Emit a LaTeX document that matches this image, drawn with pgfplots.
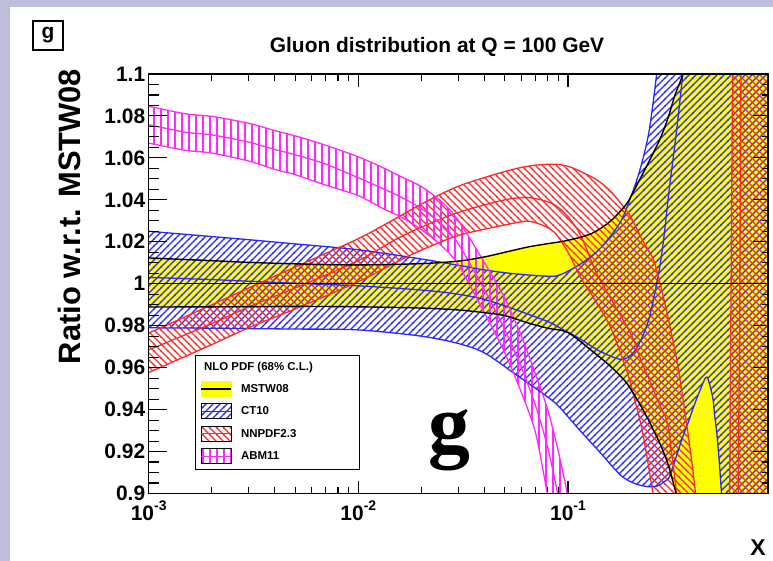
\documentclass[border=0pt]{standalone}
\usepackage{fontspec}
\setmainfont{Liberation Sans}
\newfontfamily\serifbold{Liberation Serif}
\usepackage{pgfplots}
\pgfplotsset{compat=1.18}
\usepackage{pgfplotstable}
\usepgfplotslibrary{fillbetween}
\usetikzlibrary{patterns}

\definecolor{frame}{RGB}{190,190,220}
\definecolor{ctblue}{RGB}{40,40,255}
\definecolor{nnred}{RGB}{255,40,40}
\definecolor{abmmag}{RGB}{255,40,255}
\definecolor{mstwyel}{RGB}{255,255,0}

% hatch styles on a 7bp grid
\pgfdeclarepatternformonly{hatchNE}{\pgfpoint{-1bp}{-1bp}}{\pgfpoint{8bp}{8bp}}{\pgfpoint{7bp}{7bp}}{%
  \pgfsetlinewidth{1.3bp}%
  \pgfpathmoveto{\pgfpoint{-0.5bp}{-0.5bp}}%
  \pgfpathlineto{\pgfpoint{7.5bp}{7.5bp}}%
  \pgfusepath{stroke}}
\pgfdeclarepatternformonly{hatchNW}{\pgfpoint{-1bp}{-1bp}}{\pgfpoint{8bp}{8bp}}{\pgfpoint{7bp}{7bp}}{%
  \pgfsetlinewidth{1.3bp}%
  \pgfpathmoveto{\pgfpoint{-0.5bp}{7.5bp}}%
  \pgfpathlineto{\pgfpoint{7.5bp}{-0.5bp}}%
  \pgfusepath{stroke}}
\pgfdeclarepatternformonly{hatchV}{\pgfpoint{-1bp}{-1bp}}{\pgfpoint{8bp}{8bp}}{\pgfpoint{7bp}{7bp}}{%
  \pgfsetlinewidth{1.3bp}%
  \pgfpathmoveto{\pgfpoint{0bp}{-1bp}}%
  \pgfpathlineto{\pgfpoint{0bp}{8bp}}%
  \pgfusepath{stroke}}

% ratio to MSTW08: x, lower edge, central, upper edge
\pgfplotstableread{
x lo c hi
0.0009 0.9889 1 1.0124
0.001 0.9889 1 1.0123
0.002 0.9890 1 1.0110
0.003 0.9891 1 1.0102
0.005 0.9892 1 1.0095
0.01 0.9890 1 1.0090
0.02 0.9884 1 1.0096
0.03 0.9875 1 1.0108
0.04 0.9862 1 1.0128
0.05 0.9848 1 1.0150
0.065 0.9812 1 1.0176
0.08 0.9788 1 1.0191
0.1 0.9767 1 1.0207
0.13 0.9680 1 1.0240
0.16 0.9605 1 1.0300
0.19 0.9528 1 1.0380
0.213 0.9450 1 1.0470
0.237 0.9368 1 1.0560
0.274 0.9240 1 1.0687
0.3 0.9140 1 1.0790
0.324 0.9020 1 1.0900
0.353 0.8880 1 1.0997
0.4 0.8680 1 1.1180
0.5 0.8350 1 1.1550
0.7 0.7900 1 1.2100
0.95 0.7500 1 1.2700
}\mstw

\pgfplotstableread{
x lo c hi
0.0009 0.9790 1.0032 1.0253
0.001 0.9790 1.0030 1.0250
0.002 0.9788 1.0020 1.0225
0.003 0.9786 1.0012 1.0210
0.005 0.9784 1.0002 1.0190
0.01 0.9780 0.9990 1.0162
0.02 0.9750 0.9970 1.0118
0.03 0.9715 0.9950 1.0088
0.04 0.9670 0.9925 1.0066
0.055 0.9575 0.9880 1.0048
0.08 0.9460 0.9820 1.0036
0.0914 0.9410 0.9790 1.0042
0.113 0.9305 0.9740 1.0090
0.141 0.9200 0.9680 1.0164
0.177 0.9090 0.9640 1.0290
0.2 0.9055 0.9660 1.0417
0.22 0.9040 0.9720 1.0540
0.243 0.9032 0.9830 1.0720
0.265 0.9035 1.0000 1.1000
0.278 0.9045 1.0120 1.1200
0.289 0.9058 1.0250 1.1400
0.305 0.9080 1.0460 1.1700
0.327 0.9170 1.0700 1.2000
0.353 0.9270 1.1000 1.2400
0.375 0.9340 1.1300 1.2800
0.40 0.9420 1.1700 1.3200
0.43 0.9500 1.2200 1.3600
0.46 0.9555 1.2600 1.4000
0.49 0.9460 1.3000 1.4500
0.50 0.9380 1.3200 1.4700
0.515 0.9270 1.3500 1.5000
0.528 0.9140 1.3800 1.5300
0.54 0.9000 1.4000 1.5500
0.56 0.8750 1.4500 1.6000
0.7 0.8000 1.5000 1.7000
0.95 0.7800 1.5500 1.7500
}\cteq

\pgfplotstableread{
x lo c hi
0.0009 0.9567 0.9675 0.9755
0.001 0.9577 0.9685 0.9765
0.002 0.9710 0.9810 0.9900
0.003 0.9790 0.9890 0.9980
0.005 0.9880 0.9980 1.0080
0.01 1.0010 1.0110 1.0215
0.015 1.0100 1.0210 1.0310
0.02 1.0160 1.0270 1.0380
0.03 1.0230 1.0340 1.0465
0.05 1.0280 1.0400 1.0535
0.066 1.0297 1.0410 1.0562
0.085 1.0250 1.0380 1.0570
0.1 1.0150 1.0320 1.0560
0.115 1.0030 1.0230 1.0535
0.137 0.9910 1.0050 1.0496
0.16 0.9790 0.9930 1.0440
0.19 0.9590 0.9800 1.0350
0.204 0.9480 0.9740 1.0300
0.226 0.9300 0.9620 1.0210
0.245 0.9100 0.9540 1.0150
0.259 0.8950 0.9480 1.0100
0.28 0.8750 0.9400 0.9970
0.3 0.8600 0.9320 0.9840
0.33 0.8400 0.9000 0.9640
0.36 0.8300 0.8700 0.9400
0.39 0.8200 0.8500 0.9150
0.41 0.8150 0.8400 0.8970
0.45 0.8100 0.8300 0.8700
0.5 0.8050 0.8300 0.8550
0.55 0.8000 0.8300 0.8500
0.58 0.8000 0.8300 0.8600
0.59 0.8000 0.8300 0.9000
0.6 0.8000 0.8350 1.0000
0.61 0.8000 0.8400 1.1000
0.63 0.8000 0.8500 1.2500
0.645 0.8000 0.8800 1.3000
0.655 0.8000 0.9500 1.3300
0.665 0.8000 1.0500 1.3600
0.68 0.8000 1.1800 1.4000
0.75 0.7900 1.3500 1.5000
0.95 0.7800 1.5000 1.6000
}\nnpdf

\pgfplotstableread{
x lo c hi
0.0009 1.0675 1.0763 1.0851
0.001 1.0670 1.0758 1.0846
0.0015 1.0636 1.0722 1.0810
0.002 1.0623 1.0710 1.0798
0.003 1.0585 1.0675 1.0765
0.004 1.0545 1.0640 1.0730
0.005 1.0520 1.0615 1.0705
0.007 1.0470 1.0570 1.0660
0.01 1.0420 1.0505 1.0605
0.013 1.0360 1.0455 1.0555
0.016 1.0318 1.0413 1.0510
0.02 1.0258 1.0358 1.0463
0.025 1.0180 1.0283 1.0390
0.03 1.0090 1.0190 1.0302
0.04 0.9860 0.9970 1.0100
0.05 0.9670 0.9780 0.9930
0.06 0.9480 0.9600 0.9750
0.07 0.9290 0.9420 0.9570
0.08 0.8990 0.9220 0.9400
0.09 0.8700 0.8980 0.9200
0.1 0.8400 0.8700 0.8980
0.11 0.8100 0.8400 0.8700
}\abm

\pgfplotsset{
  band edge/.style={smooth, tension=0.5, forget plot},
  frame geometry/.style={
    at={(148.7bp,67.5bp)}, anchor=south west,
    scale only axis, width=619.3bp, height=419.5bp,
    ymin=0.9, ymax=1.1,
    axis line style={line width=1.3bp},
    every tick/.append style={black, line width=1.1bp},
    tick align=inside,
  },
}

\begin{document}
\begin{tikzpicture}
% lavender page edges
\fill[frame] (0,0) rectangle (10bp,561bp);
\fill[frame] (0,554bp) rectangle (773bp,561bp);

\begin{axis}[
  frame geometry,
  xmode=log, xmin=0.001, xmax=0.9,
  xtick={0.001,0.01,0.1},
  xticklabels={{10\raisebox{0.45em}{\fontsize{14}{14}\selectfont -3}},
               {10\raisebox{0.45em}{\fontsize{14}{14}\selectfont -2}},
               {10\raisebox{0.45em}{\fontsize{14}{14}\selectfont -1}}},
  xticklabel style={yshift=-4bp},
  xtick pos=both,
  major tick length=13bp, minor tick length=7bp,
  ytick={0.9,0.92,0.94,0.96,0.98,1,1.02,1.04,1.06,1.08,1.1},
  minor y tick num=3,
  every y tick/.append style={draw=none},
  every minor y tick/.append style={draw=none},
  tick label style={font=\bfseries\fontsize{21}{21}\selectfont},
  /pgf/number format/assume math mode=true,
  yticklabel style={/pgf/number format/fixed, /pgf/number format/precision=2},
  legend style={at={(0.0748,0.330)}, anchor=north west, draw=black,
    line width=1bp, fill=white, inner xsep=5bp, inner ysep=5bp,
    row sep=6.5bp, column sep=7bp,
    font=\bfseries\fontsize{11.5}{11.5}\selectfont},
  legend cell align=left,
]
\addlegendimage{empty legend}
\addlegendentry{\hspace*{-37bp}NLO PDF (68\% C.L.)\hspace*{40bp}}
\addlegendimage{legend image code/.code={
  \fill[mstwyel] (0bp,-7.5bp) rectangle (30bp,7.5bp);
  \draw[black,line width=1.5bp] (0bp,0bp) -- (30bp,0bp);}}
\addlegendentry{MSTW08}
\addlegendimage{legend image code/.code={
  \fill[pattern=hatchNE,pattern color=ctblue] (0bp,-7.5bp) rectangle (30bp,7.5bp);
  \draw[ctblue,line width=1.2bp] (0bp,0bp) -- (30bp,0bp);}}
\addlegendentry{CT10}
\addlegendimage{legend image code/.code={
  \fill[pattern=hatchNW,pattern color=nnred] (0bp,-7.5bp) rectangle (30bp,7.5bp);
  \draw[nnred,line width=1.2bp] (0bp,0bp) -- (30bp,0bp);}}
\addlegendentry{NNPDF2.3}
\addlegendimage{legend image code/.code={
  \fill[pattern=hatchV,pattern color=abmmag] (0bp,-7.5bp) rectangle (30bp,7.5bp);
  \draw[abmmag,line width=1.2bp] (0bp,0bp) -- (30bp,0bp);}}
\addlegendentry{ABM11}

% band boundaries
\addplot[band edge, draw=none, name path=mlo] table[x=x,y=lo] {\mstw};
\addplot[band edge, draw=none, name path=mhi] table[x=x,y=hi] {\mstw};
\addplot[band edge, draw=none, name path=clo] table[x=x,y=lo] {\cteq};
\addplot[band edge, draw=none, name path=chi] table[x=x,y=hi] {\cteq};
\addplot[band edge, draw=none, name path=nlo] table[x=x,y=lo] {\nnpdf};
\addplot[band edge, draw=none, name path=nhi] table[x=x,y=hi] {\nnpdf};
\addplot[band edge, draw=none, name path=alo] table[x=x,y=lo] {\abm};
\addplot[band edge, draw=none, name path=ahi] table[x=x,y=hi] {\abm};

% filled and hatched bands
\addplot[fill=mstwyel, draw=none, forget plot] fill between[of=mlo and mhi];
\addplot[pattern=hatchNE, pattern color=ctblue, draw=none, forget plot] fill between[of=clo and chi];
\addplot[pattern=hatchNW, pattern color=nnred, draw=none, forget plot] fill between[of=nlo and nhi];
\addplot[pattern=hatchV, pattern color=abmmag, draw=none, forget plot] fill between[of=alo and ahi];

% band edges and central values
\addplot[band edge, ctblue, line width=1.3bp] table[x=x,y=lo] {\cteq};
\addplot[band edge, ctblue, line width=1.3bp] table[x=x,y=c] {\cteq};
\addplot[band edge, ctblue, line width=1.3bp] table[x=x,y=hi] {\cteq};
\addplot[band edge, nnred, line width=1.3bp] table[x=x,y=lo] {\nnpdf};
\addplot[band edge, nnred, line width=1.3bp] table[x=x,y=c] {\nnpdf};
\addplot[band edge, nnred, line width=1.3bp] table[x=x,y=hi] {\nnpdf};
\addplot[band edge, abmmag, line width=1.3bp] table[x=x,y=lo] {\abm};
\addplot[band edge, abmmag, line width=1.3bp] table[x=x,y=c] {\abm};
\addplot[band edge, abmmag, line width=1.3bp] table[x=x,y=hi] {\abm};
\addplot[band edge, black, line width=1.4bp] table[x=x,y=lo] {\mstw};
\addplot[band edge, black, line width=1.4bp] table[x=x,y=hi] {\mstw};
\addplot[band edge, black, line width=1.4bp] table[x=x,y=c] {\mstw};
\end{axis}

% y ticks, left side
\begin{axis}[frame geometry, xmin=0, xmax=1, xtick=\empty,
  ytick={0.9,0.92,0.94,0.96,0.98,1,1.02,1.04,1.06,1.08,1.1},
  minor y tick num=3, yticklabels={}, ytick pos=left,
  major tick length=18bp, minor tick length=10bp]
\addplot[draw=none, forget plot] coordinates {(0,1) (1,1)};
\end{axis}
% y ticks, right side
\begin{axis}[frame geometry, xmin=0, xmax=1, xtick=\empty,
  ytick={0.9,0.92,0.94,0.96,0.98,1,1.02,1.04,1.06,1.08,1.1},
  minor y tick num=3, yticklabels={}, ytick pos=right,
  major tick length=15bp, minor tick length=6bp]
\addplot[draw=none, forget plot] coordinates {(0,1) (1,1)};
\end{axis}

\node[anchor=base, font=\bfseries\fontsize{21}{21}\selectfont] at (437bp,508bp) {Gluon distribution at Q = 100 GeV};
\node[rotate=90, anchor=base, font=\bfseries\fontsize{31}{31}\selectfont] at (80bp,344.5bp) {Ratio w.r.t. MSTW08};
\node[anchor=base, font=\bfseries\fontsize{23}{23}\selectfont] at (758bp,6bp) {X};
\node[draw, line width=1.2bp, minimum width=30bp, minimum height=29bp, inner sep=0pt,
  font=\bfseries\fontsize{21}{21}\selectfont] at (48bp,525.5bp) {g};
\node[font=\serifbold\bfseries\fontsize{84}{84}\selectfont] at (449bp,121bp) {g};

\pgfresetboundingbox
\path[use as bounding box] (0,0) rectangle (773bp,561bp);
\end{tikzpicture}
\end{document}
